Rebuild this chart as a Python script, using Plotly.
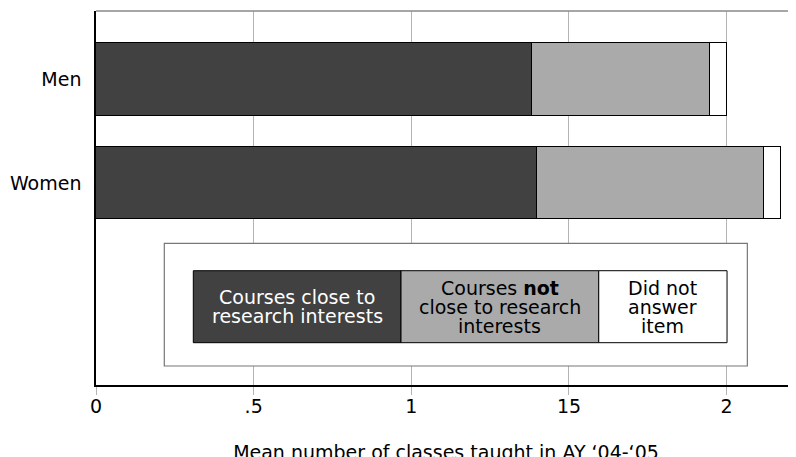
import plotly.graph_objects as go

# ── data ─────────────────────────────────────────────────────────────────────
groups = ["Men", "Women"]
close_to_research = [1.384, 1.398]
not_close_to_research = [0.563, 0.722]
did_not_answer = [0.055, 0.053]

series_names = [
    "Courses close to research interests",
    "Courses not close to research interests",
    "Did not answer item",
]
legend_lines = [
    ["Courses close to", "research interests"],
    ["Courses <b>not</b>", "close to research", "interests"],
    ["Did not", "answer", "item"],
]
tick_vals = [0, 0.5, 1, 1.5, 2]
tick_text = ["0", ".5", "1", "15", "2"]
x_title = "Mean number of classes taught in AY \u201804-\u201805"

# ── style ────────────────────────────────────────────────────────────────────
DARK = "#414141"
MID = "#aaaaaa"
LIGHT = "#ffffff"
GRID = "#b4b4b4"
FONT = "DejaVu Sans, Verdana, sans-serif"
FILLS = [DARK, MID, LIGHT]
TEXT_COLORS = ["#ffffff", "#000000", "#000000"]

fig = go.Figure()
for name, vals, fill in zip(series_names,
                            [close_to_research, not_close_to_research, did_not_answer],
                            FILLS):
    fig.add_trace(go.Bar(
        y=groups, x=vals, name=name, orientation="h",
        width=0.704,
        marker=dict(color=fill, line=dict(color="#000000", width=1)),
        showlegend=False,
    ))

# top border of the plot frame
fig.add_shape(type="line", xref="paper", yref="paper", x0=0, x1=1, y0=1, y1=1,
              line=dict(color="#888888", width=1.5))

# hand-drawn legend panel: outer frame + three swatch cells
fig.add_shape(type="rect", xref="x", yref="paper", x0=0.2166, x1=2.0657,
              y0=0.0508, y1=0.3789, fillcolor="#ffffff",
              line=dict(color="#777777", width=1.2), layer="above")
cell_edges = [0.3086, 0.9673, 1.5944, 2.0013]
cell_y = (0.1131, 0.3056)
for i, fill in enumerate(FILLS):
    fig.add_shape(type="rect", xref="x", yref="paper",
                  x0=cell_edges[i], x1=cell_edges[i + 1],
                  y0=cell_y[0], y1=cell_y[1], fillcolor=fill,
                  line=dict(color="#000000", width=1), layer="above")
    lines = legend_lines[i]
    mid = (cell_y[0] + cell_y[1]) / 2
    step = 19 / 374
    for j, line in enumerate(lines):
        off = (len(lines) - 1) / 2 - j
        fig.add_annotation(
            x=(cell_edges[i] + cell_edges[i + 1]) / 2, xref="x",
            y=mid + off * step, yref="paper",
            text=line, showarrow=False, xanchor="center", yanchor="middle",
            font=dict(family=FONT, size=19, color=TEXT_COLORS[i]),
        )

# page body adds an 8px offset, so the frame sits 8px up/left of the target
fig.update_layout(
    width=796, height=457,
    barmode="stack",
    paper_bgcolor="#ffffff", plot_bgcolor="#ffffff",
    font=dict(family=FONT, size=19, color="#000000"),
    margin=dict(l=88, r=8, t=3, b=80, autoexpand=False),
    bargap=0,
)
fig.update_xaxes(
    range=[0, 2.22], tickvals=tick_vals, ticktext=tick_text,
    showgrid=True, gridcolor=GRID, gridwidth=1,
    showline=True, linecolor="#000000", linewidth=1.5,
    ticks="outside", ticklen=8, tickcolor=GRID,
    ticklabelstandoff=-5,
    zeroline=False,
    tickfont=dict(family=FONT, size=19, color="#000000"),
    title=dict(text=x_title, standoff=30,
               font=dict(family=FONT, size=19, color="#000000")),
)
fig.update_yaxes(
    range=[2.955, -0.665], type="category",
    showgrid=False, showline=True, linecolor="#000000", linewidth=1.5,
    ticks="", ticklabelstandoff=9,
    tickfont=dict(family=FONT, size=19, color="#000000"),
)

fig.write_html("out.html")
